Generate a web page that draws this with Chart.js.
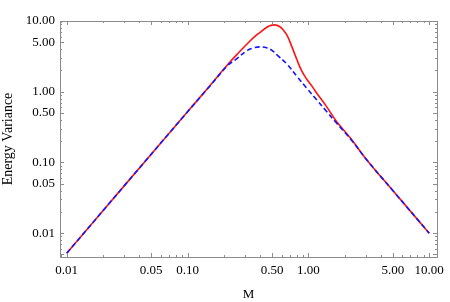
<!DOCTYPE html>
<html>
<head>
<meta charset="utf-8">
<script src="https://cdn.jsdelivr.net/npm/chart.js@4.4.0/dist/chart.umd.min.js"></script>
<style>
  html, body { margin: 0; padding: 0; background: #fff; }
  #wrap { width: 450px; height: 302px; }
</style>
</head>
<body>
<div id="wrap"><canvas id="c"></canvas></div>
<script>
// values (log-log plot)
const mRed = [0.01, 0.03, 0.1, 0.1475, 0.215, 0.26, 0.332, 0.38, 0.42, 0.46, 0.5, 0.54, 0.58, 0.61, 0.665, 0.731, 0.803, 0.883, 0.97, 1.07, 1.17, 1.41, 1.71, 2.26, 3.0, 5.0, 10];
const vRed = [0.0052, 0.047, 0.52, 1.13, 2.42, 3.45, 5.3, 6.5, 7.4, 8.3, 8.75, 8.75, 8.3, 7.7, 6.3, 4.3, 2.85, 1.95, 1.5, 1.2, 0.96, 0.62, 0.38, 0.215, 0.112, 0.04, 0.01];
const mBlue = [0.01, 0.03, 0.1, 0.1475, 0.215, 0.25, 0.313, 0.35, 0.393, 0.457, 0.5, 0.552, 0.665, 0.803, 0.97, 1.17, 1.41, 1.71, 2.26, 3.0, 5.0, 10];
const vBlue = [0.0052, 0.047, 0.52, 1.12, 2.35, 2.85, 3.85, 4.15, 4.3, 4.15, 3.85, 3.3, 2.45, 1.65, 1.12, 0.77, 0.53, 0.36, 0.21, 0.112, 0.04, 0.01];
const tickVals = [0.01, 0.05, 0.1, 0.5, 1, 5, 10];
const tickLabels = ['0.01', '0.05', '0.10', '0.50', '1.00', '5.00', '10.00'];

const SERIF = '"Liberation Serif", "Times New Roman", serif';
const FONT = { family: SERIF, size: 13 };
const FRAME = '#8c8c8c';

function pts(xs, ys) { return xs.map((x, i) => ({ x: x, y: ys[i] })); }
function setTicks(scale) { scale.ticks = tickVals.map(v => ({ value: v })); }
function fmt(v) { const i = tickVals.indexOf(v); return i >= 0 ? tickLabels[i] : ''; }

// Mathematica-like frame with inward ticks
const frameTicks = {
  id: 'frameTicks',
  afterDatasetsDraw(chart) {
    const { ctx, chartArea: a, scales } = chart;
    const x = scales.x, y = scales.y;
    ctx.save();
    ctx.strokeStyle = FRAME;
    ctx.lineWidth = 1;
    ctx.strokeRect(Math.round(a.left) + 0.5, Math.round(a.top) + 0.5, Math.round(a.right - a.left), Math.round(a.bottom - a.top));
    ctx.beginPath();
    for (let d = 0.001; d <= 100; d *= 10) {
      for (let m = 1; m <= 9; m++) {
        const v = d * m;
        const len = (m === 1 || m === 5) ? 4 : 2;
        if (v >= x.min && v <= x.max) {
          const px = Math.round(x.getPixelForValue(v)) + 0.5;
          ctx.moveTo(px, a.bottom); ctx.lineTo(px, a.bottom - len);
          ctx.moveTo(px, a.top); ctx.lineTo(px, a.top + len);
        }
        if (v >= y.min && v <= y.max) {
          const py = Math.round(y.getPixelForValue(v)) + 0.5;
          ctx.moveTo(a.left, py); ctx.lineTo(a.left + len, py);
          ctx.moveTo(a.right, py); ctx.lineTo(a.right - len, py);
        }
      }
    }
    ctx.stroke();
    ctx.restore();
  }
};

new Chart(document.getElementById('c'), {
  type: 'line',
  data: {
    datasets: [
      {
        data: pts(mBlue, vBlue),
        borderColor: 'rgb(20,20,255)',
        borderWidth: 1.6,
        borderDash: [5, 3],
        pointRadius: 0,
        tension: 0.4,
        fill: false
      },
      {
        data: pts(mRed, vRed),
        borderColor: 'rgb(255,20,20)',
        borderWidth: 1.6,
        pointRadius: 0,
        tension: 0.4,
        fill: false
      }
    ]
  },
  plugins: [frameTicks],
  options: {
    responsive: true,
    maintainAspectRatio: false,
    animation: false,
    layout: { padding: { top: 21, right: 8, left: 0, bottom: 0 } },
    plugins: { legend: { display: false }, tooltip: { enabled: false } },
    scales: {
      x: {
        type: 'logarithmic',
        min: 0.0088,
        max: 11.6,
        afterBuildTicks: setTicks,
        afterFit: s => { s.height = 45; },
        grid: { display: false, drawTicks: false },
        border: { display: false },
        ticks: { callback: fmt, color: '#000', font: FONT, padding: 6, maxRotation: 0, autoSkip: false },
        title: { display: true, text: 'M', color: '#000', font: FONT, padding: { top: 0, bottom: 0 } }
      },
      y: {
        type: 'logarithmic',
        min: 0.0046,
        max: 10,
        afterBuildTicks: setTicks,
        afterFit: s => { s.width = 60; },
        grid: { display: false, drawTicks: false },
        border: { display: false },
        ticks: { callback: fmt, color: '#000', font: FONT, padding: 5, autoSkip: false },
        title: { display: true, text: 'Energy Variance', color: '#000', font: { family: SERIF, size: 14 }, padding: { top: 0, bottom: 0 } }
      }
    }
  }
});
</script>
</body>
</html>
